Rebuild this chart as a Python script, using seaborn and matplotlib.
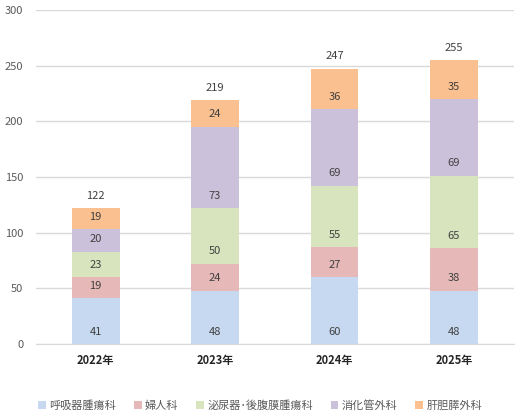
import numpy as np
import pandas as pd
import matplotlib
matplotlib.use("Agg")
import matplotlib.pyplot as plt
import seaborn as sns

years = ["2022年", "2023年", "2024年", "2025年"]
departments = ["呼吸器腫瘍科", "婦人科", "泌尿器･後腹膜腫瘍科", "消化管外科", "肝胆膵外科"]
respiratory = [41, 48, 60, 48]
gynecology = [19, 24, 27, 38]
urology = [23, 50, 55, 65]
digestive = [20, 73, 69, 69]
hepatobiliary = [19, 24, 36, 35]
colors = ["#C6D9F1", "#E6B9B8", "#D7E4BD", "#CCC1DA", "#FAC090"]

sns.set_style("white")
plt.rcParams["font.family"] = ["Noto Sans CJK JP", "DejaVu Sans"]

series = [respiratory, gynecology, urology, digestive, hepatobiliary]

fig = plt.figure(figsize=(5.2, 4.16), dpi=100)
ax = fig.add_axes([0.069, 0.173, 0.919, 0.803])

bottom = np.zeros(len(years))
for name, vals, col in zip(departments, series, colors):
    df = pd.DataFrame({"year": years, "count": vals})
    sns.barplot(data=df, x="year", y="count", color=col, bottom=bottom,
                width=0.4, ax=ax, label=name, saturation=1, linewidth=0,
                order=years)
    for i, v in enumerate(vals):
        ax.annotate(str(v), (i, bottom[i]), xytext=(0, 9),
                    textcoords="offset points", ha="center", va="center",
                    fontsize=8, color="#404040")
    bottom = bottom + np.array(vals)

for i, t in enumerate(bottom):
    ax.annotate(str(int(t)), (i, t), xytext=(0, 9), textcoords="offset points",
                ha="center", va="center", fontsize=8, color="#404040")

ax.set_ylim(0, 300)
ax.set_yticks(range(0, 301, 50))
ax.grid(axis="y", color="#D9D9D9", linewidth=1)
ax.set_axisbelow(True)
for s in ["top", "right", "left"]:
    ax.spines[s].set_visible(False)
ax.spines["bottom"].set_color("#D9D9D9")
ax.tick_params(axis="y", length=0, pad=9, labelsize=8, labelcolor="#595959")
ax.tick_params(axis="x", length=0, pad=7, labelsize=8)
for lab in ax.get_xticklabels():
    lab.set_fontweight("bold")
ax.set_xlabel("")
ax.set_ylabel("")

handles, labels = ax.get_legend_handles_labels()
ax.legend(handles, labels, loc="center", bbox_to_anchor=(0.5, 0.026),
          bbox_transform=fig.transFigure, ncol=5, frameon=False, fontsize=8,
          handlelength=0.7, handleheight=0.7, handletextpad=0.3,
          columnspacing=1.6, labelcolor="#595959")

fig.savefig("out.png", dpi=100)
